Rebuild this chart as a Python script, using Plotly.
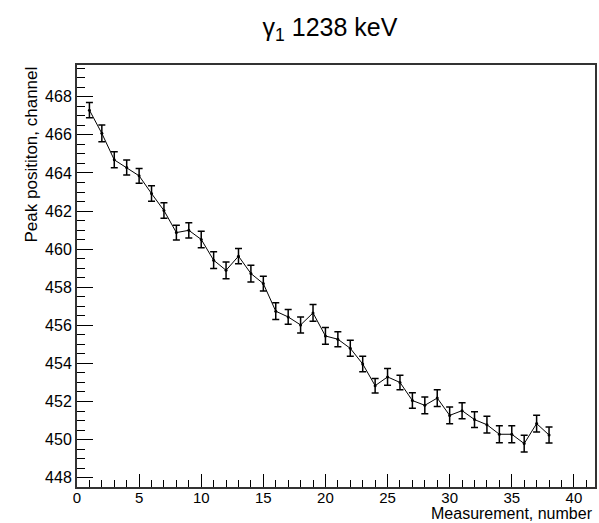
import plotly.graph_objects as go

measurement = list(range(1, 39))
peak_position = [467.30, 466.08, 464.69, 464.29, 463.85, 462.92, 462.03, 460.87, 460.99, 460.51,
                 459.42, 458.89, 459.63, 458.72, 458.19, 456.74, 456.44, 456.02, 456.65, 455.44,
                 455.27, 454.79, 453.97, 452.83, 453.29, 453.00, 452.05, 451.80, 452.18, 451.27,
                 451.52, 451.05, 450.78, 450.28, 450.28, 449.79, 450.84, 450.24]
peak_error = [0.40, 0.44, 0.42, 0.39, 0.39, 0.41, 0.41, 0.39, 0.40, 0.43,
              0.44, 0.44, 0.40, 0.44, 0.39, 0.44, 0.39, 0.42, 0.44, 0.44,
              0.39, 0.42, 0.41, 0.38, 0.44, 0.38, 0.41, 0.44, 0.44, 0.44,
              0.42, 0.41, 0.44, 0.44, 0.44, 0.44, 0.44, 0.42]

title_text = "γ<sub>1</sub> 1238 keV"
x_title = "Measurement, number"
y_title = "Peak posititon, channel"
x_ticks = [0, 5, 10, 15, 20, 25, 30, 35, 40]
y_ticks = [448, 450, 452, 454, 456, 458, 460, 462, 464, 466, 468]

FONT = "Liberation Sans, Arial, Helvetica, sans-serif"

fig = go.Figure()
fig.add_trace(go.Scatter(
    x=measurement, y=peak_position,
    mode="lines+markers",
    line=dict(color="black", width=1),
    marker=dict(color="black", size=3),
    error_y=dict(type="data", array=peak_error, visible=True,
                 color="black", thickness=1.5, width=3.5),
    showlegend=False,
))

fig.update_layout(
    width=599, height=523,
    margin=dict(l=77, r=2, t=65, b=36),
    plot_bgcolor="white", paper_bgcolor="white",
    font=dict(family=FONT, color="black", size=16),
    title=dict(text=title_text, x=330/599, xanchor="center",
               y=1 - 27/523, yanchor="middle", font=dict(size=25, family=FONT)),
    xaxis=dict(range=[0, 41.7], tickvals=x_ticks, ticks="inside", ticklen=13,
               tickwidth=1, tickcolor="black", showgrid=False, zeroline=False,
               showline=True, linecolor="#333", linewidth=2, mirror=True,
               minor=dict(dtick=1, ticks="inside", ticklen=7, tickwidth=1, tickcolor="black"),
               tickfont=dict(size=15), ticklabelstandoff=-4),
    yaxis=dict(range=[447.51, 469.67], tickvals=y_ticks, ticks="inside", ticklen=16,
               tickwidth=1, tickcolor="black", showgrid=False, zeroline=False,
               showline=True, linecolor="#333", linewidth=2, mirror=True,
               minor=dict(dtick=0.5, ticks="inside", ticklen=8, tickwidth=1, tickcolor="black"),
               tickfont=dict(size=16)),
    annotations=[
        dict(text=x_title, xref="paper", yref="paper", x=1, y=0, xanchor="right",
             yanchor="top", yshift=-16, showarrow=False, font=dict(size=16)),
        dict(text=y_title, xref="paper", yref="paper", x=0, y=1, xanchor="right",
             yanchor="top", xshift=-35, textangle=-90, showarrow=False, font=dict(size=17)),
    ],
)

fig.write_html("out.html")
